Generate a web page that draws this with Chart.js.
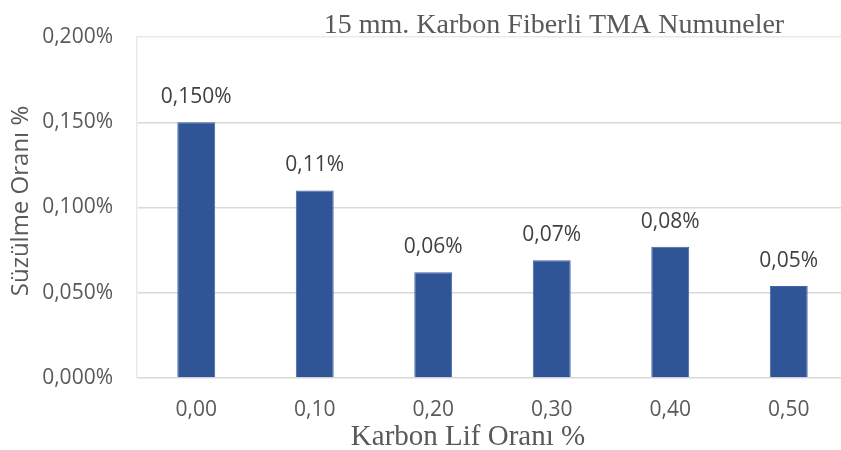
<!DOCTYPE html>
<html>
<head>
<meta charset="utf-8">
<script src="https://cdn.jsdelivr.net/npm/chart.js@4"></script>
<style>
  html, body { margin: 0; padding: 0; background: #fff; overflow: hidden; }
  #wrap { position: relative; width: 841px; height: 450px; overflow: hidden; }
  #chart { position: absolute; left: 0; top: 0; }
</style>
</head>
<body>
<div id="wrap"><canvas id="chart" width="856" height="450"></canvas></div>
<script>
/**************** DATA ****************/
const categories = ["0,00", "0,10", "0,20", "0,30", "0,40", "0,50"];
const values = [0.150, 0.110, 0.062, 0.069, 0.077, 0.054];
const valueLabels = ["0,150%", "0,11%", "0,06%", "0,07%", "0,08%", "0,05%"];
const yTicks = [0, 0.05, 0.1, 0.15, 0.2];

const chartTitle = "15 mm. Karbon Fiberli TMA Numuneler";
const xTitle = "Karbon Lif Oranı %";
const yTitle = "Süzülme Oranı %";

/**************** TEXT PLUGIN ****************/
const textPlugin = {
    id: "texts",
    afterDatasetsDraw(chart) {
        const ctx = chart.ctx;
        const meta = chart.getDatasetMeta(0);
        ctx.save();

        // bar value labels
        ctx.font = "21px 'Open Sans'";
        ctx.fillStyle = "#404040";
        ctx.textAlign = "center";
        ctx.textBaseline = "middle";
        meta.data.forEach((bar, i) => {
            ctx.fillText(valueLabels[i], bar.x, bar.y - 25);
        });

        // chart title
        ctx.font = "28px 'Liberation Serif'";
        ctx.fillStyle = "#595959";
        ctx.textBaseline = "alphabetic";
        ctx.fillText(chartTitle, 554, 33);

        // x axis title
        ctx.font = "29px 'Liberation Serif'";
        ctx.fillText(xTitle, 468, 445);

        // y axis title
        ctx.font = "24px 'Open Sans'";
        ctx.textBaseline = "middle";
        ctx.translate(21, 201);
        ctx.rotate(-Math.PI / 2);
        ctx.fillText(yTitle, 0, 0);

        ctx.restore();
    }
};

/**************** CHART ****************/
new Chart(document.getElementById("chart"), {
    type: "bar",
    data: {
        labels: categories,
        datasets: [{
            data: values,
            backgroundColor: "#2f5597",
            borderColor: "#3f66a8",
            borderWidth: 1,
            barPercentage: 0.32,
            categoryPercentage: 1
        }]
    },
    options: {
        responsive: false,
        animation: false,
        layout: { padding: { top: 37, right: 8, left: 0, bottom: 0 } },
        plugins: {
            legend: { display: false },
            tooltip: { enabled: false }
        },
        scales: {
            x: {
                grid: { display: false, drawTicks: false },
                border: { display: false },
                ticks: {
                    color: "#595959",
                    font: { family: "Open Sans", size: 21 },
                    padding: 19
                },
                afterFit: s => { s.height = 72; }
            },
            y: {
                min: 0,
                max: 0.2,
                afterBuildTicks: s => { s.ticks = yTicks.map(v => ({ value: v })); },
                grid: {
                    drawTicks: false,
                    lineWidth: 1.5,
                    color: c => c.tick && c.tick.value === 0.2 ? "#ece9e1" : "#d9d9d9"
                },
                border: { color: "#ece9e1", width: 1.5 },
                ticks: {
                    color: "#595959",
                    font: { family: "Open Sans", size: 21 },
                    padding: 24,
                    callback: v => v.toFixed(3).replace(".", ",") + "%"
                },
                afterFit: s => { s.width = 137; }
            }
        }
    },
    plugins: [textPlugin]
});
</script>
</body>
</html>
